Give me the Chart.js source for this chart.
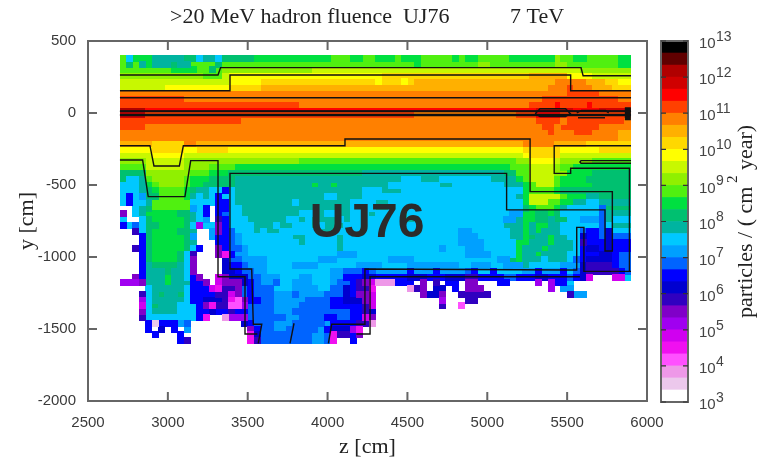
<!DOCTYPE html>
<html>
<head>
<meta charset="utf-8">
<title>UJ76 hadron fluence</title>
<script src="https://cdn.jsdelivr.net/npm/chart.js@4"></script>
<style>
  html, body { margin: 0; padding: 0; background: #fff; }
  canvas { position: absolute; top: 0; filter: blur(0.45px); }
  #fluenceMap { left: 0; }
  #colorBar { left: 648px; }
</style>
</head>
<body>
<canvas id="fluenceMap" width="759" height="458"></canvas>
<canvas id="colorBar" width="111" height="458"></canvas>
<script>
// one letter per colour band, lowest fluence first
const bandCodes = ".abcdefghijklmnopqrstuvwxyzABC";
const bandColors = ['#ffffff','#ecc8ec','#ee98e8','#ff50ff','#f010f0','#d000f0','#a000f0','#8000c8','#3000c0','#0000d0',
  '#0000ff','#0064ff','#00a0ff','#00c8ff','#00b4a0','#00c070','#00e040','#50f010','#90f000','#c8f800',
  '#ffff00','#ffd800','#ffb000','#ff8000','#ff4000','#ff0000','#d00000','#b00000','#600000','#000000'];
const bandEdges = [1e3,2.15e3,4.64e3,1e4,2.15e4,4.64e4,1e5,2.15e5,4.64e5,1e6,2.15e6,4.64e6,1e7,2.15e7,4.64e7,1e8,
  2.15e8,4.64e8,1e9,2.15e9,4.64e9,1e10,2.15e10,4.64e10,1e11,2.15e11,4.64e11,1e12,2.15e12,4.64e12,1e13];
const barDecades = [1e3,1e4,1e5,1e6,1e7,1e8,1e9,1e10,1e11,1e12,1e13];

// cells: 40 cm x 40 cm, z from 2700, y from 400 downward
const cellSize = 40;
const firstZ = 2700;
const firstY = 400;
// band letter + run length, row by row from the top
const fluenceRows = [
  "q1m1p3n5o2m1n2m1o5p12q3p2q2p3q1p3q5p1q1p2q5p7r1q2p2q5p2",
  "q1o1q1n1p1n3o1n2q4o1q20q10p1q9r2q10r2q8p2",
  "q8p4q2o1q1r14s42r2r6",
  "r13q3s1t24u23v6t4s6",
  "s17t5u18t1u3t1u1v19v3w3w2v3u2t3",
  "s7t10u5v42v3w3x1w3v3u3",
  "w70x5w5",
  "x10w56x12w2",
  "x28w36x4y1x4y1x4x2",
  "A4y61z6y4z5",
  "z4x42w16x3y4x11",
  "x19w46x4w1x9w1",
  "x4w62x2w1x6w5",
  "w67x1w3x3w4v2",
  "w78v2",
  "v5u5w2v51w5v5u7",
  "t5u5t2u5t46u6t6u5",
  "s5t5s7s46t1u5s11",
  "r4s6r8r10q34r2t4s1r5q6",
  "q4s6r4q4p43q3s4r1q2p9",
  "o4r7q3p3o21n22o2q2s4r2p4o6",
  "o1m2n1q1r5q1p3o3o1n26m3n3m8n4p1q1s4q1p4o7",
  "m3n1p1q1r4q1p2o4o1n12p1n2p1n8m8n2m8n3p1q1s3q1p5o6",
  "m3n1o1p1q4p1o1n2m2j1m1n20m3n3m16m3p1q4p1o4o7",
  "m1j1m1l1o2q4p1n1m1n1m1j1m1m1n14m2n4m22m2n1p1s5q1p3n2o5",
  "m1j1m2n1q6m1m3j2m1n9m1n8m4n2m18m3p1s3q2p2n2m2n5",
  ".2m1n1o1q6l1m1j1.1j2m2n17m4n2m6m12m3o1p1q3p1n1m5k1o4",
  "g1.1m1n1p5o2n1m1j1.1j1k1m2n9m3n1m2n2m3n1m4n1m16l2p2o2p1o1m6k1n4",
  "m1.2m1o1p5o1n1m1l1.1h1j1m3n6m2n1m1n4m1n1m8n2m14l2n1p2o2n1o2m2l3k1n1m3",
  "j1m1k1m1o2p4o1m1f1m1m1g1j1m4n3m1n2m3n1m1n3m25n3p1n1p2n2m4m2k1m1n3",
  ".2h1m1o1p4o2n1.2l1g1j1k1m3n1m1n2m2m4n3m19l2m6n2p1n1p1n3m3k1j2k1i1m3",
  ".3j1o1p5o1l1.2l1j2k1l1m2m6n2m5n1m18l3m5n2p1o1n2p1n2m2i1j2k1i1k3",
  ".3j1o1p5o1n1.3j1j1k1l1m9n1m5n1m18l4m5p2n3p1n3m1h1j3i1j3",
  ".2h1j1o1p5o1m1j1.2g1j1k2l1m9m5n1m15l1m3l3m5p1n3p1n4m1j1i2j1i1j3",
  ".3j1o1p4o1m1h1.3g1d1j1l1l1m14l3m17l4m4p1n2p1n4m2j3i2j1k2",
  ".3j1o1p4o1m1g1.4i1k2l4m8l3m8l4m13l2o1p1n3m1n3m1k1j1i2i2j1k2",
  ".3j1n1o4n1m1g1.4i1j2k1l3m4l4m6l4m4l8m2l3m2l3n1m1m4l3i1h4j1k2",
  ".3j1n3o1n2m1g1.4i2j1k2l2m10l2k3j1k1l3l2j1l3j1l4k1j1m2j1m4l2j1l3j1m1k1i1h5j1k1",
  ".2g1j1n3p1n2m1j1g1.2e1g1i3k2l3m3l2m3l2j3i2j5i3j3i3h2j4k2j3i2j3k1j1i1e1.3e2m1",
  "f3g1n3p1n3j2g1.1e1g3i1j1k1l2k1m2l3m3l1k2j1h1g1e1b3j3.1g1.1h1.1j2.1g2.3j2.4f1.1f1j2m1.9",
  ".4m1n1n4m1j3e1d1h2g1k1j1k3m3l4m2k2i1j1h2d1.5b1h1g1.1i2.1j1.1g3.8.2f1.1l2.9",
  ".3h1m1n1o1n2o1m1j4h2e1g1k1j1k3l3k1l4k3i1j1g2e1.7g1i2g1.2h5.12h1l2.7",
  ".3f1m1n5m1j2i3h1d1c1g1j1j1k2l5k4j2i3g1e1.10f1.3h2.24",
  ".3e1m1o1n3m3j1g1d1h2c2f1k1k3l4k5j2j3h1e1.10h1.2c1.26",
  ".3g1m1n4m3j2i1j2h1j1j1k4l3k9j2h1i1.40",
  ".3h1m8j1d1.2b1f3k1k5l2k4j2k2j2e1g1.40",
  ".4j1a1j3l1k1.8i1j1k1k2l3k5l1j1j3h2b1.41",
  ".4j1.1i1.1j1.1l1.9g1j1k2l2k5l1j1i3f1d1.42",
  ".5j1.3j1.10d1i1k3k5l2k1d1h2j1g1.42",
  ".9j1h1.9d1h1k8l2k1d1.2j1.43"
];

// shielding and tunnel outlines, [z, y] in cm
const wallUpperOuter = [[2700,264],[3314,264],[3330,315],[5587,315],[5600,259],[5900,259]];
const wallUpperInner = [[2700,155],[3385,155],[3389,264],[5522,264],[5522,155],[5900,155]];
const wallBeamTop = [[2700,106],[5900,106]];
const beamLineA = [[2700,12],[5900,12]];
const beamLineB = [[2700,-14],[5900,-14]];
const beamLumpA = [[5300,-5],[5330,30],[5490,30],[5520,-5],[5490,-25],[5330,-25],[5300,-5]];
const beamLumpB = [[5560,0],[5590,18],[5740,18],[5760,0]];
const beamLumpC = [[5568,-33],[5737,-33]];
const beamEnd = [[5880,40],[5880,-50]];
const caveInner = [[2700,-227],[2888,-227],[2913,-368],[3072,-368],[3097,-227],[4109,-227],[4109,-181],[5268,-181],
  [5268,-546],[5783,-546],[5783,-958],[5737,-958],[5737,-673],[5121,-673],[5121,-419],[3389,-419],[3389,-1083],
  [3525,-1083],[3535,-1467],[3588,-1467],[3566,-1600]];
const caveOuterLeft = [[2700,-326],[2842,-326],[2877,-581],[3107,-581],[3143,-331],[3314,-331],[3314,-1137],[3483,-1137],[3483,-1535],[3560,-1535]];
const caveSlit = [[3765,-1600],[3790,-1460]];
const caveRight = [[4005,-1600],[4026,-1467],[4234,-1467],[4234,-1083],[5522,-1090],[5560,-1090],[5560,-794],[5605,-794],[5605,-1100],[5900,-1100]];
const caveOuterRight = [[4180,-1535],[4266,-1535],[4266,-1137],[5580,-1137]];
const sideGallery = [[5900,-227],[5419,-227],[5419,-419],[5522,-419],[5522,-384],[5890,-384],[5890,-1097]];
const sideSlot = [[5900,-331],[5587,-331],[5580,-340],[5587,-349],[5900,-349]];
const outlines = [wallUpperOuter, wallUpperInner, wallBeamTop, beamLineA, beamLineB, beamLumpA, beamLumpB, beamLumpC,
  caveInner, caveOuterLeft, caveSlit, caveRight, caveOuterRight, sideGallery, sideSlot];

const zTicks = { min: 2500, max: 6000, step: 500 };
const yTicks = { min: -2000, max: 500, step: 500 };

const frameGray = '#666';
const labelGray = '#3a3a3a';
const serif = '"Liberation Serif", serif';
const sans = '"Liberation Sans", sans-serif';

function cellImage(color) {
  const c = document.createElement('canvas');
  c.width = 7; c.height = 7;
  const g = c.getContext('2d');
  g.fillStyle = color;
  g.fillRect(0, 0, 7, 7);
  return c;
}

// expand the rows into one point list per band
const bandPoints = bandColors.map(() => []);
fluenceRows.forEach((row, r) => {
  let col = 0;
  for (const m of row.matchAll(/([.a-zA-Z])(\d+)/g)) {
    const band = bandCodes.indexOf(m[1]);
    for (let n = 0; n < +m[2] && col < 80; n++, col++) {
      bandPoints[band].push({ x: firstZ + cellSize * (col + 0.5), y: firstY - cellSize * (r + 0.5) });
    }
  }
});

const cellDatasets = bandColors.map((color, i) => ({
  label: 'band ' + i,
  data: i === 0 ? [] : bandPoints[i],
  pointStyle: cellImage(color),
  pointRadius: 1,
  showLine: false,
  order: 2
}));
const lineDataset = (pts, width) => ({
  data: pts.map(p => ({ x: p[0], y: p[1] })),
  showLine: true,
  pointRadius: 0,
  borderColor: '#111',
  borderWidth: width,
  fill: false,
  order: 1
});
const lineDatasets = outlines.map(o => lineDataset(o, 1.4));
lineDatasets.push(lineDataset(beamLineA, 2), lineDataset(beamLineB, 2.5), lineDataset(beamEnd, 6));

// frame and inward ticks on all four sides, gnuplot style
const frameTicks = {
  id: 'frameTicks',
  afterDraw(chart) {
    const { ctx, chartArea: a, scales: { x, y } } = chart;
    ctx.save();
    ctx.strokeStyle = frameGray;
    ctx.lineWidth = 2;
    ctx.strokeRect(a.left, a.top, a.width, a.height);
    ctx.beginPath();
    x.ticks.forEach(t => {
      const px = x.getPixelForValue(t.value);
      ctx.moveTo(px, a.bottom); ctx.lineTo(px, a.bottom - 9);
      ctx.moveTo(px, a.top); ctx.lineTo(px, a.top + 9);
    });
    y.ticks.forEach(t => {
      const py = y.getPixelForValue(t.value);
      ctx.moveTo(a.left, py); ctx.lineTo(a.left + 9, py);
      ctx.moveTo(a.right, py); ctx.lineTo(a.right - 9, py);
    });
    ctx.stroke();
    ctx.fillStyle = '#222';
    ctx.font = '22px ' + serif;
    ctx.textBaseline = 'middle';
    ctx.textAlign = 'left';
    ctx.fillText('>20 MeV hadron fluence  UJ76', 170, 17);
    ctx.fillText('7 TeV', 510, 17);
    ctx.fillStyle = '#2b2b2b';
    ctx.font = 'bold 48px ' + sans;
    ctx.textAlign = 'center';
    ctx.fillText('UJ76', x.getPixelForValue(4247), y.getPixelForValue(-771));
    ctx.restore();
  }
};

new Chart(document.getElementById('fluenceMap'), {
  type: 'scatter',
  data: { datasets: cellDatasets.concat(lineDatasets) },
  options: {
    responsive: false,
    animation: false,
    events: [],
    layout: { padding: { top: 41, right: 112 } },
    plugins: { legend: { display: false }, tooltip: { enabled: false } },
    scales: {
      x: {
        type: 'linear',
        min: zTicks.min, max: zTicks.max,
        afterFit: s => { s.height = 57; s.paddingLeft = 0; s.paddingRight = 0; },
        grid: { display: false },
        border: { display: false },
        ticks: { stepSize: zTicks.step, padding: 5, color: labelGray, font: { family: sans, size: 15 }, maxRotation: 0, callback: v => String(v) },
        title: { display: true, text: 'z [cm]', color: '#222', font: { family: serif, size: 22, lineHeight: 1 }, padding: { top: 0, bottom: 0 } }
      },
      y: {
        min: yTicks.min, max: yTicks.max,
        afterFit: s => { s.width = 88; s.paddingTop = 0; s.paddingBottom = 0; },
        grid: { display: false },
        border: { display: false },
        ticks: { stepSize: yTicks.step, padding: 4, color: labelGray, font: { family: sans, size: 15 }, callback: v => String(v) },
        title: { display: true, text: 'y [cm]', color: '#222', font: { family: serif, size: 22, lineHeight: 1 }, padding: { top: 16, bottom: 0 } }
      }
    }
  },
  plugins: [frameTicks]
});

// colour bar: frame, dashes at each decade, 10^n labels and the rotated unit label
const barDecor = {
  id: 'barDecor',
  afterDraw(chart) {
    const { ctx, chartArea: a, scales: { y } } = chart;
    ctx.save();
    ctx.strokeStyle = frameGray;
    ctx.lineWidth = 2;
    ctx.strokeRect(a.left, a.top, a.width, a.height);
    ctx.strokeStyle = '#333';
    ctx.lineWidth = 1.2;
    ctx.fillStyle = '#444';
    ctx.textBaseline = 'middle';
    barDecades.forEach(v => {
      const py = y.getPixelForValue(v);
      ctx.beginPath();
      ctx.moveTo(a.left, py); ctx.lineTo(a.left + 5, py);
      ctx.moveTo(a.right, py); ctx.lineTo(a.right - 5, py);
      ctx.stroke();
      ctx.font = '15px ' + sans;
      ctx.textAlign = 'left';
      ctx.fillText('10', a.right + 11, py + 3);
      ctx.font = '14px ' + sans;
      ctx.fillText(String(Math.round(Math.log10(v))), a.right + 28, py - 4);
    });
    ctx.translate(98, 318);
    ctx.rotate(-Math.PI / 2);
    ctx.fillStyle = '#222';
    ctx.font = '22px ' + serif;
    ctx.fillText('particles / ( cm', 0, 0);
    ctx.font = '15px ' + serif;
    ctx.fillText('2', 135, -13);
    ctx.font = '22px ' + serif;
    ctx.fillText('year)', 148, 0);
    ctx.restore();
  }
};

new Chart(document.getElementById('colorBar'), {
  type: 'bar',
  data: {
    labels: ['fluence'],
    datasets: bandColors.map((color, i) => ({
      data: [[bandEdges[i], bandEdges[i + 1]]],
      backgroundColor: color,
      borderWidth: 0,
      grouped: false,
      barPercentage: 1,
      categoryPercentage: 1
    }))
  },
  options: {
    responsive: false,
    animation: false,
    events: [],
    layout: { padding: { top: 41, bottom: 56, left: 13 } },
    plugins: { legend: { display: false }, tooltip: { enabled: false } },
    scales: {
      x: { display: false },
      y: {
        type: 'logarithmic',
        position: 'right',
        min: 1e3, max: 1e13,
        afterFit: s => { s.width = 71; },
        grid: { display: false },
        border: { display: false },
        ticks: { display: false }
      }
    }
  },
  plugins: [barDecor]
});
</script>
</body>
</html>
